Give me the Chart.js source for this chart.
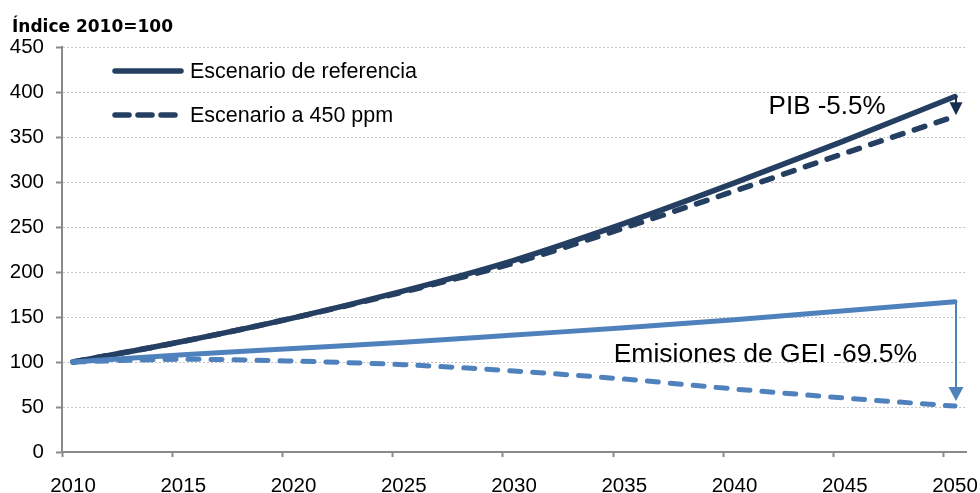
<!DOCTYPE html>
<html>
<head>
<meta charset="utf-8">
<script src="https://cdn.jsdelivr.net/npm/chart.js@4/dist/chart.umd.min.js"></script>
<style>
  html, body { margin: 0; padding: 0; background: #ffffff; }
  #wrap { width: 980px; height: 493px; position: relative; }
</style>
</head>
<body>
<div id="wrap"><canvas id="chart" width="980" height="493"></canvas></div>
<script>
// Índice 2010=100, valores cada 5 años
const years = ['2010', '2015', '2020', '2025', '2030', '2035', '2040', '2045', '2050'];
const pibReferencia = [100, 123, 149, 179, 213, 254, 299, 346, 395];
const pib450 = [100, 123, 149, 178, 210, 249, 290, 332, 373];
const geiReferencia = [100, 108, 115, 122, 130, 138, 147, 157, 167];
const gei450 = [100, 103, 101, 97, 90, 81, 70, 60, 51];
const yTicks = [0, 50, 100, 150, 200, 250, 300, 350, 400, 450];

const titleText = 'Índice 2010=100';
const pibLabel = 'PIB -5.5%';
const geiLabel = 'Emisiones de GEI -69.5%';

// eje de categorías anual 2010–2050
const allYears = [];
for (let y = 2010; y <= 2050; y++) allYears.push(String(y));

const DARK = '#243F62';
const LIGHT = '#4F81BD';
const ARROW_DARK = '#172F4F';
const AXIS = '#8A8A8A';
const GRID = '#C4C4C4';
const DASH = [11, 12];
const FONT = '"Liberation Sans", Arial, sans-serif';

const toPoints = (vals) => years.map((yr, i) => ({ x: yr, y: vals[i] }));

const lineBase = {
  fill: false,
  pointRadius: 0,
  pointHoverRadius: 0,
  borderCapStyle: 'round',
  borderJoinStyle: 'round',
  cubicInterpolationMode: 'monotone'
};

const datasets = [
  Object.assign({}, lineBase, { label: 'Emisiones referencia', data: toPoints(geiReferencia), borderColor: LIGHT, borderWidth: 5, inLegend: false }),
  Object.assign({}, lineBase, { label: 'Emisiones 450 ppm', data: toPoints(gei450), borderColor: LIGHT, borderWidth: 5, borderDash: DASH, inLegend: false }),
  Object.assign({}, lineBase, { label: 'Escenario de referencia', data: toPoints(pibReferencia), borderColor: DARK, borderWidth: 5.5, inLegend: true }),
  Object.assign({}, lineBase, { label: 'Escenario a 450 ppm', data: toPoints(pib450), borderColor: DARK, borderWidth: 5.5, borderDash: DASH, inLegend: true })
];

// título, leyenda interior y flechas de diferencia en 2050
const decorations = {
  id: 'decorations',
  afterDatasetsDraw(chart) {
    const ctx = chart.ctx;
    const xs = chart.scales.x;
    const ys = chart.scales.y;
    ctx.save();

    // título del eje
    ctx.fillStyle = '#000';
    ctx.font = 'bold 17px "DejaVu Sans"';
    ctx.textAlign = 'left';
    ctx.textBaseline = 'alphabetic';
    ctx.fillText(titleText, 12, 32);

    // leyenda
    const legendItems = chart.data.datasets.filter(d => d.inLegend);
    let ly = 71;
    legendItems.forEach(d => {
      ctx.save();
      ctx.strokeStyle = d.borderColor;
      ctx.lineWidth = d.borderWidth;
      ctx.lineCap = 'round';
      ctx.setLineDash(d.borderDash ? [14, 9] : []);
      ctx.beginPath();
      ctx.moveTo(115, ly);
      ctx.lineTo(181, ly);
      ctx.stroke();
      ctx.restore();
      ctx.fillStyle = '#000';
      ctx.font = '21.5px ' + FONT;
      ctx.textBaseline = 'middle';
      ctx.fillText(d.label, 190, ly + 1);
      ly += 44;
    });

    const i2050 = allYears.indexOf('2050');
    const x = xs.getPixelForValue(i2050);
    const last = years.length - 1;

    // flecha PIB
    const pTop = ys.getPixelForValue(pibReferencia[last]);
    const pBot = ys.getPixelForValue(pib450[last]);
    ctx.strokeStyle = ARROW_DARK;
    ctx.fillStyle = ARROW_DARK;
    ctx.lineWidth = 2;
    ctx.beginPath();
    ctx.moveTo(x + 1, pTop);
    ctx.lineTo(x + 1, pBot - 12);
    ctx.stroke();
    ctx.beginPath();
    ctx.moveTo(x - 5.5, pBot - 14);
    ctx.lineTo(x + 7.5, pBot - 14);
    ctx.lineTo(x + 1, pBot - 1);
    ctx.closePath();
    ctx.fill();

    // flecha emisiones
    const gTop = ys.getPixelForValue(geiReferencia[last]);
    const gBot = ys.getPixelForValue(gei450[last]);
    ctx.strokeStyle = LIGHT;
    ctx.fillStyle = LIGHT;
    ctx.lineWidth = 2;
    ctx.beginPath();
    ctx.moveTo(x + 1, gTop);
    ctx.lineTo(x + 1, gBot - 16);
    ctx.stroke();
    ctx.beginPath();
    ctx.moveTo(x - 6.5, gBot - 19);
    ctx.lineTo(x + 8.5, gBot - 19);
    ctx.lineTo(x + 1, gBot - 5);
    ctx.closePath();
    ctx.fill();

    // rótulos de las diferencias
    ctx.fillStyle = '#000';
    ctx.textAlign = 'center';
    ctx.textBaseline = 'middle';
    ctx.font = '26px ' + FONT;
    ctx.fillText(pibLabel, xs.getPixelForValue(34.2), ys.getPixelForValue(383));
    ctx.font = '26.5px ' + FONT;
    ctx.fillText(geiLabel, xs.getPixelForValue(31.4), ys.getPixelForValue(108));

    ctx.restore();
  }
};

new Chart(document.getElementById('chart'), {
  type: 'line',
  data: { labels: allYears, datasets: datasets },
  options: {
    responsive: false,
    animation: false,
    events: [],
    layout: { padding: { top: 47, right: 14, left: 0, bottom: 0 } },
    plugins: {
      legend: { display: false },
      tooltip: { enabled: false },
      title: { display: false }
    },
    scales: {
      x: {
        type: 'category',
        offset: true,
        afterFit(scale) {
          scale.height = 41;
          scale.paddingLeft = 0;
          scale.paddingRight = 0;
        },
        grid: {
          offset: true,
          drawOnChartArea: false,
          drawTicks: true,
          tickLength: 5,
          tickWidth: 2,
          tickColor: (c) => (c.index !== undefined && c.index % 5 === 0) ? AXIS : 'rgba(0,0,0,0)'
        },
        border: { display: true, color: AXIS, width: 2 },
        ticks: {
          autoSkip: false,
          maxRotation: 0,
          minRotation: 0,
          padding: 17,
          color: '#000',
          font: { family: FONT, size: 20.5 },
          callback: function (value) {
            const lbl = this.getLabelForValue(value);
            return years.includes(lbl) ? lbl : '';
          }
        }
      },
      y: {
        min: 0,
        max: 450,
        afterFit(scale) {
          scale.width = 62;
          scale.paddingTop = 0;
          scale.paddingBottom = 0;
        },
        afterBuildTicks(scale) { scale.ticks = yTicks.map(v => ({ value: v })); },
        grid: {
          drawTicks: true,
          tickLength: 6,
          tickWidth: 2,
          tickColor: AXIS,
          lineWidth: 1,
          color: (c) => (c.tick && c.tick.value === 0) ? 'rgba(0,0,0,0)' : GRID
        },
        border: { display: true, color: AXIS, width: 2, dash: [2, 2] },
        ticks: {
          padding: 12,
          color: '#000',
          font: { family: FONT, size: 20.5 }
        }
      }
    }
  },
  plugins: [decorations]
});
</script>
</body>
</html>
